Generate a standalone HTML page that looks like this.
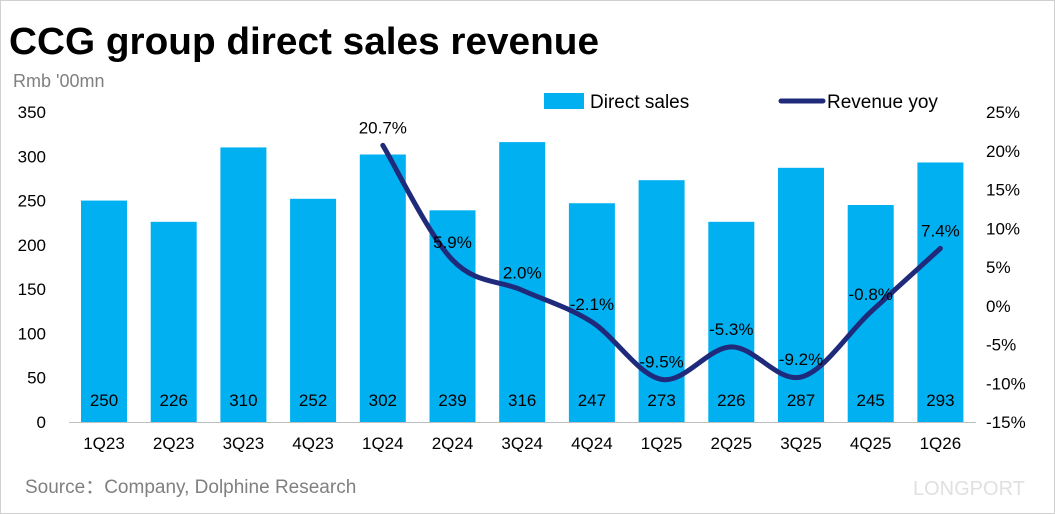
<!DOCTYPE html>
<html><head><meta charset="utf-8"><style>
body{margin:0;background:#fff;}
#wrap{position:relative;width:1053px;height:512px;border:1px solid #d0d0d0;overflow:hidden;font-family:"Liberation Sans",sans-serif;}
</style></head><body>
<div id="wrap">
<svg id="chart" width="1053" height="512"></svg>
</div>
<script>
const categories=["1Q23","2Q23","3Q23","4Q23","1Q24","2Q24","3Q24","4Q24","1Q25","2Q25","3Q25","4Q25","1Q26"];
const salesValues=[250,226,310,252,302,239,316,247,273,226,287,245,293];
const yoyValues=[null,null,null,null,20.7,5.9,2.0,-2.1,-9.5,-5.3,-9.2,-0.8,7.4];
const leftTicks=[0,50,100,150,200,250,300,350];
const rightTicks=[-15,-10,-5,0,5,10,15,20,25];

const NS="http://www.w3.org/2000/svg";
const svg=document.getElementById('chart');
function el(tag,attrs,text){const e=document.createElementNS(NS,tag);for(const k in attrs)e.setAttribute(k,attrs[k]);if(text!==undefined)e.textContent=text;svg.appendChild(e);return e;}
const yL=v=>421-v*(310/350);
const yR=v=>421-(v+15)*(310/40);
const xC=i=>103+i*69.7;

let t=el('text',{x:8,y:53,'font-size':38,'font-weight':'bold',fill:'#000',textLength:590,lengthAdjust:'spacingAndGlyphs'},'CCG group direct sales revenue');


t=el('text',{x:12,y:86,'font-size':18,fill:'#808080'},"Rmb '00mn");



leftTicks.forEach(v=>{const e=el('text',{x:45,y:yL(v)+6,'font-size':17,'text-anchor':'end',fill:'#000'},v);

});
rightTicks.forEach(v=>{const e=el('text',{x:985,y:yR(v)+6,'font-size':17,fill:'#000'},v+'%');

});

salesValues.forEach((v,i)=>{
 const b=el('rect',{x:xC(i)-23,y:yL(v),width:46,height:421-yL(v),fill:'#00b0f0'});
 
 
 const l=el('text',{x:xC(i),y:405,'font-size':17,'text-anchor':'middle',fill:'#000'},v);
 
 
 const c=el('text',{x:xC(i),y:448,'font-size':17,'text-anchor':'middle',fill:'#000'},categories[i]);
 
 
});
const ax=el('line',{x1:68,x2:975,y1:421.5,y2:421.5,stroke:'#bfbfbf','stroke-width':1});



const pts=[];yoyValues.forEach((v,i)=>{if(v!==null)pts.push([xC(i),yR(v),v]);});
let d='M'+pts[0][0]+','+pts[0][1];
for(let i=0;i<pts.length-1;i++){
 const p0=pts[Math.max(i-1,0)],p1=pts[i],p2=pts[i+1],p3=pts[Math.min(i+2,pts.length-1)];
 const c1x=p1[0]+(p2[0]-p0[0])/6,c1y=p1[1]+(p2[1]-p0[1])/6,c2x=p2[0]-(p3[0]-p1[0])/6,c2y=p2[1]-(p3[1]-p1[1])/6;
 d+=` C${c1x},${c1y} ${c2x},${c2y} ${p2[0]},${p2[1]}`;
}
const line=el('path',{d:d,fill:'none',stroke:'#1f2a7a','stroke-width':5,'stroke-linecap':'round'});


pts.forEach(p=>{
 const l=el('text',{x:p[0],y:p[1]-12,'font-size':17,'text-anchor':'middle',fill:'#000'},p[2].toFixed(1)+'%');
 
 
});

let lg=el('rect',{x:543,y:92,width:40,height:16,fill:'#00b0f0'});


lg=el('text',{x:589,y:107,'font-size':19,fill:'#000'},'Direct sales');


lg=el('line',{x1:780,x2:822,y1:100,y2:100,stroke:'#1f2a7a','stroke-width':5,'stroke-linecap':'round'});


lg=el('text',{x:826,y:107,'font-size':19,fill:'#000'},'Revenue yoy');



t=el('text',{x:24,y:492,'font-size':19,fill:'#808080'},'Source：Company, Dolphine Research');


t=el('text',{x:912,y:494,'font-size':20,fill:'#e0e0e0'},'LONGPORT');


</script>
</body></html>
